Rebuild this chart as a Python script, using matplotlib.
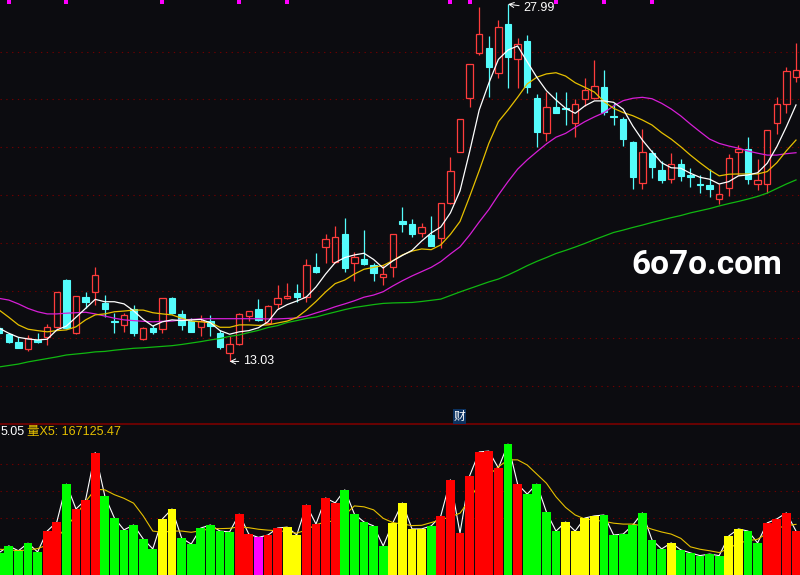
import matplotlib
matplotlib.use("Agg")
import matplotlib.pyplot as plt
from matplotlib.patches import Rectangle
from matplotlib.lines import Line2D

# ---- daily bars (prices) ----
OPEN = [14.42, 14.18, 13.84, 13.56, 13.93, 14.05, 14.47, 16.46, 14.21, 15.71,
        15.92, 15.49, 14.74, 14.55, 15.21, 13.99, 14.42, 14.40, 15.69, 15.02,
        14.72, 14.47, 14.74, 14.21, 13.38, 13.75, 14.95, 15.21, 14.65, 15.43,
        15.67, 15.89, 15.71, 16.97, 17.83, 17.21, 18.37, 17.16, 17.31, 17.07,
        16.58, 17.00, 18.91, 18.78, 18.42, 18.32, 18.18, 19.65, 21.81, 24.05,
        25.93, 26.14, 25.12, 27.16, 25.71, 26.45, 24.06, 22.61, 23.67, 23.64,
        23.00, 24.01, 24.05, 24.53, 23.31, 23.18, 22.23, 20.51, 21.77, 21.05,
        20.66, 21.30, 20.82, 20.46, 20.42, 19.82, 20.28, 21.81, 21.92, 20.45,
        20.45, 23.03, 23.80, 24.95]
HIGH = [14.51, 14.23, 14.05, 14.14, 14.23, 14.60, 15.94, 16.48, 15.77, 15.92,
        16.97, 15.81, 15.07, 15.07, 15.38, 14.47, 14.56, 15.69, 15.73, 15.18,
        14.85, 14.98, 14.98, 14.35, 14.08, 15.06, 15.15, 15.63, 15.39, 16.23,
        16.31, 16.27, 17.32, 17.57, 18.37, 18.70, 19.02, 17.62, 18.53, 17.14,
        17.07, 18.38, 19.51, 18.98, 18.84, 19.12, 19.66, 21.60, 23.18, 25.48,
        27.87, 26.66, 27.33, 27.99, 26.56, 26.70, 24.22, 24.33, 24.33, 24.33,
        24.02, 24.89, 25.65, 25.23, 23.84, 23.28, 22.24, 22.75, 21.88, 21.44,
        21.75, 21.51, 21.12, 20.84, 21.08, 20.46, 21.72, 22.09, 22.42, 21.51,
        22.73, 24.12, 25.37, 26.35]
LOW = [14.18, 13.80, 13.59, 13.48, 13.79, 13.73, 14.44, 14.39, 14.18, 15.25,
       15.39, 14.90, 14.23, 14.27, 14.08, 13.93, 14.18, 14.21, 15.02, 14.35,
       14.26, 14.08, 14.08, 13.54, 13.03, 13.72, 14.74, 14.74, 14.62, 15.22,
       15.63, 15.53, 15.53, 16.73, 17.14, 17.14, 16.79, 16.41, 17.07, 16.41,
       16.23, 16.55, 18.46, 18.23, 18.25, 17.85, 17.77, 19.64, 21.80, 23.67,
       25.86, 24.09, 24.89, 24.47, 24.47, 24.26, 22.02, 22.27, 23.44, 22.93,
       22.44, 23.73, 24.01, 23.35, 22.93, 22.05, 20.25, 20.25, 20.72, 20.51,
       20.51, 20.59, 20.35, 20.10, 19.93, 19.61, 19.96, 20.84, 20.46, 20.21,
       20.10, 22.55, 23.45, 24.74]
CLOSE = [14.23, 13.86, 13.61, 14.01, 13.83, 14.47, 15.92, 14.42, 15.76, 15.51,
         16.63, 15.22, 14.70, 14.96, 14.23, 14.42, 14.26, 15.67, 15.05, 14.56,
         14.27, 14.74, 14.51, 13.65, 13.75, 15.02, 15.14, 14.77, 15.35, 15.67,
         15.77, 15.74, 17.07, 16.79, 18.14, 18.23, 16.96, 17.39, 17.11, 16.73,
         16.68, 18.37, 18.80, 18.37, 18.65, 17.86, 19.65, 21.02, 23.17, 25.47,
         26.74, 25.37, 27.02, 25.79, 26.32, 24.51, 22.65, 23.67, 23.45, 23.60,
         23.80, 24.40, 24.56, 23.49, 23.27, 22.34, 20.77, 21.79, 21.18, 20.63,
         21.28, 20.80, 20.77, 20.42, 20.26, 20.04, 21.54, 21.92, 20.68, 20.62,
         22.72, 23.81, 25.19, 25.23]

# ---- moving averages as drawn ----
MA5 = [14.42, 14.21, 14.04, 13.97, 13.93, 13.96, 14.35, 14.51, 14.88, 15.25,
       15.63, 15.53, 15.53, 15.44, 15.15, 14.79, 14.51, 14.69, 14.77, 14.74,
       14.77, 14.79, 14.65, 14.32, 14.17, 14.27, 14.32, 14.44, 14.69, 15.20,
       15.41, 15.56, 15.73, 16.15, 16.69, 17.17, 17.38, 17.49, 17.56, 17.30,
       16.94, 17.24, 17.47, 17.68, 18.07, 18.41, 18.66, 19.25, 20.17, 21.81,
       23.56, 24.68, 25.68, 26.07, 26.24, 25.58, 24.93, 24.37, 23.98, 23.63,
       23.42, 23.73, 23.94, 23.94, 23.88, 23.59, 22.89, 22.30, 21.81, 21.35,
       21.14, 21.12, 20.91, 20.74, 20.66, 20.46, 20.56, 20.80, 20.84, 20.93,
       21.33, 22.02, 22.86, 23.77]
MA10 = [15.18, 14.88, 14.56, 14.38, 14.32, 14.27, 14.32, 14.35, 14.48, 14.77,
        14.98, 15.02, 15.11, 15.14, 15.18, 15.18, 15.07, 15.02, 14.98, 14.84,
        14.72, 14.69, 14.65, 14.46, 14.46, 14.56, 14.56, 14.54, 14.56, 14.64,
        14.72, 14.87, 15.18, 15.54, 15.94, 16.29, 16.44, 16.69, 16.89, 16.97,
        17.05, 17.25, 17.49, 17.65, 17.74, 17.71, 17.91, 18.35, 18.89, 19.93,
        21.02, 22.16, 23.07, 23.56, 24.09, 24.65, 24.93, 25.07, 25.12, 24.98,
        24.70, 24.51, 24.31, 23.91, 23.63, 23.45, 23.32, 23.14, 22.93, 22.61,
        22.34, 22.02, 21.67, 21.35, 21.05, 20.80, 20.87, 20.88, 20.88, 20.88,
        20.98, 21.35, 21.85, 22.30]
MA30 = [15.67, 15.60, 15.44, 15.25, 15.11, 15.02, 15.02, 15.05, 15.07, 15.09,
        15.02, 14.93, 14.84, 14.77, 14.74, 14.71, 14.69, 14.71, 14.72, 14.77,
        14.79, 14.81, 14.82, 14.82, 14.82, 14.82, 14.82, 14.82, 14.81, 14.81,
        14.83, 14.85, 14.93, 15.06, 15.18, 15.32, 15.44, 15.57, 15.72, 15.81,
        15.95, 16.19, 16.41, 16.61, 16.79, 16.97, 17.21, 17.53, 17.83, 18.32,
        18.87, 19.39, 20.00, 20.56, 21.08, 21.47, 21.81, 22.14, 22.42, 22.58,
        22.83, 23.07, 23.27, 23.45, 23.73, 23.95, 24.05, 24.09, 24.03, 23.84,
        23.60, 23.31, 22.97, 22.65, 22.34, 22.16, 22.05, 21.96, 21.84, 21.75,
        21.67, 21.67, 21.73, 21.77]
MA60 = [12.80, 12.86, 12.92, 13.01, 13.08, 13.15, 13.22, 13.30, 13.34, 13.38,
        13.43, 13.45, 13.50, 13.54, 13.58, 13.60, 13.63, 13.66, 13.69, 13.74,
        13.80, 13.86, 13.93, 13.99, 14.08, 14.14, 14.24, 14.33, 14.45, 14.53,
        14.66, 14.74, 14.83, 14.89, 15.00, 15.10, 15.20, 15.29, 15.35, 15.41,
        15.46, 15.48, 15.49, 15.50, 15.54, 15.59, 15.64, 15.79, 15.94, 16.08,
        16.22, 16.36, 16.48, 16.65, 16.84, 17.04, 17.22, 17.38, 17.55, 17.68,
        17.82, 17.97, 18.13, 18.28, 18.43, 18.53, 18.64, 18.74, 18.85, 18.95,
        19.05, 19.14, 19.25, 19.34, 19.43, 19.54, 19.64, 19.73, 19.83, 19.94,
        20.08, 20.27, 20.46, 20.63]

# ---- volume (thousand shares) ----
VOL = [74, 96, 80, 105, 76, 145, 175, 300, 218, 248,
       404, 261, 188, 149, 165, 119, 86, 185, 218, 122,
       102, 155, 165, 145, 142, 201, 135, 124, 132, 155,
       158, 132, 231, 168, 254, 238, 281, 201, 175, 162,
       96, 172, 238, 152, 152, 162, 195, 314, 138, 327,
       406, 409, 353, 432, 300, 267, 300, 208, 145, 175,
       145, 188, 195, 198, 132, 135, 165, 205, 116, 86,
       106, 83, 73, 64, 69, 64, 129, 152, 145, 106,
       172, 185, 205, 145]
VOL_MA = [85, 83, 80, 83, 87, 99, 121, 159, 198, 242,
          283, 281, 265, 253, 237, 195, 145, 141, 145, 145,
          141, 146, 153, 153, 154, 159, 156, 151, 148, 146,
          143, 138, 149, 166, 175, 179, 198, 228, 225, 215,
          187, 173, 168, 163, 164, 173, 182, 192, 204, 248,
          303, 330, 357, 380, 380, 363, 333, 303, 258, 223,
          198, 185, 181, 177, 171, 168, 168, 162, 151, 142,
          135, 121, 93, 85, 80, 74, 88, 105, 113, 118,
          138, 154, 163, 167.12547]
VOL_CLASS = ("GGGGGRRGRRRGGGGGGYYGGGGGGRRMRRYYRRRRGGGGGYYYYG"
             "RRRRRRRGRGGGGYYYYGGGGGGGYGGGGGYYGGRRRR")

MARK_IDX = [1, 7, 17, 25, 30, 47, 49, 58, 63, 68]
PRICE_GRID = [12, 14, 16, 18, 20, 22, 24, 26]
VOL_GRID = [187, 277, 366]
HI_IDX, HI_VAL = 53, 27.99
LO_IDX, LO_VAL = 24, 13.03
VOL_LABEL = "量X5: 167125.47"

BG = "#0c0c10"
RED = "#ff3c3c"
CYAN = "#54fcfc"
VCOL = {"G": "#00ff00", "R": "#ff0000", "Y": "#ffff00", "M": "#ff00ff"}
GRID = "#6e0000"

W, H = 800, 575
fig = plt.figure(figsize=(W / 100, H / 100), dpi=100, facecolor=BG)
split = 151 / H
ax = fig.add_axes([0, split, 1, 1 - split])
axv = fig.add_axes([0, 0, 1, split])
for a in (ax, axv):
    a.set_facecolor(BG)
    a.set_xticks([])
    a.set_yticks([])
    for s in a.spines.values():
        s.set_visible(False)
    a.set_xlim(0.8 / 9.6, 800.8 / 9.6)

ax.set_ylim(10.41, 28.165)
axv.set_ylim(0, 498.3 * 1000)

idx = list(range(len(CLOSE)))

# grid
for g in PRICE_GRID:
    ax.axhline(g, color=GRID, lw=0.8, ls=(0, (1.2, 4)), zorder=1)
for g in VOL_GRID:
    axv.axhline(g * 1000, color=GRID, lw=0.8, ls=(0, (1.2, 4)), zorder=1)

# candles
bw = 0.66
for i in idx:
    o, h, l, c = OPEN[i], HIGH[i], LOW[i], CLOSE[i]
    lo, hi = min(o, c), max(o, c)
    if c >= o:
        if h > hi:
            ax.vlines(i, hi, h, color=RED, lw=0.9, zorder=3)
        if l < lo:
            ax.vlines(i, l, lo, color=RED, lw=0.9, zorder=3)
        ax.add_patch(Rectangle((i - bw / 2, lo), bw, hi - lo, fill=False,
                               ec=RED, lw=0.9, zorder=3))
    else:
        ax.vlines(i, l, h, color=CYAN, lw=0.9, zorder=3)
        ax.add_patch(Rectangle((i - bw / 2, lo), bw, max(hi - lo, 0.01),
                               fc=CYAN, ec=CYAN, lw=0.8, zorder=3))

ax.plot(idx, MA60, color="#10b810", lw=0.9, zorder=4)
ax.plot(idx, MA30, color="#d61ed6", lw=0.9, zorder=4)
ax.plot(idx, MA10, color="#e6c000", lw=0.9, zorder=4)
ax.plot(idx, MA5, color="white", lw=0.9, zorder=4)

ax.plot(MARK_IDX, [28.10] * len(MARK_IDX), "s", ms=2.3, mew=0,
        color="#ff00ff", zorder=5)

txt = dict(color="white", fontsize=9, family="Liberation Sans")
ax.annotate(f"{HI_VAL:.2f}", xy=(HI_IDX, HI_VAL), xytext=(11, -3),
            textcoords="offset points", ha="left", va="center",
            arrowprops=dict(arrowstyle="->", color="white", lw=0.7,
                            shrinkA=1, shrinkB=0), **txt)
ax.annotate(f"{LO_VAL:.2f}", xy=(LO_IDX, LO_VAL), xytext=(9.6, 0),
            textcoords="offset points", ha="left", va="center",
            arrowprops=dict(arrowstyle="->", color="white", lw=0.7,
                            shrinkA=1, shrinkB=0), **txt)

# volume panel
vols = [v * 1000 for v in VOL]
axv.plot(idx, vols, color="white", lw=0.8, zorder=2)
axv.plot(idx, [v * 1000 for v in VOL_MA], color="#e6c000", lw=0.8, zorder=2)
axv.bar(idx, vols, width=0.9, color=[VCOL[k] for k in VOL_CLASS], zorder=3)

fig.add_artist(Line2D([0, 1], [split, split], color="#7a0000", lw=1.2))

fig.text(1 / W, 1 - 432 / H, "5.05", color="white", fontsize=9,
         family="Liberation Sans", ha="left", va="center")
fig.text(27 / W, 1 - 432 / H, VOL_LABEL, color="#e6c000", fontsize=9,
         family=["Liberation Sans", "Noto Sans CJK SC"], ha="left", va="center")

fig.text(459.5 / W, 1 - 416.5 / H, "财", color="white", fontsize=8.5,
         family=["Noto Sans CJK SC"], ha="center", va="center",
         bbox=dict(boxstyle="square,pad=0.08", fc="#0c3260", ec="none"))

fig.text(631 / W, 1 - 265 / H, "6o7o.com", color="white", fontsize=24,
         family="Roboto", weight="bold", ha="left", va="center")

fig.savefig("out.png", dpi=100, facecolor=BG)
